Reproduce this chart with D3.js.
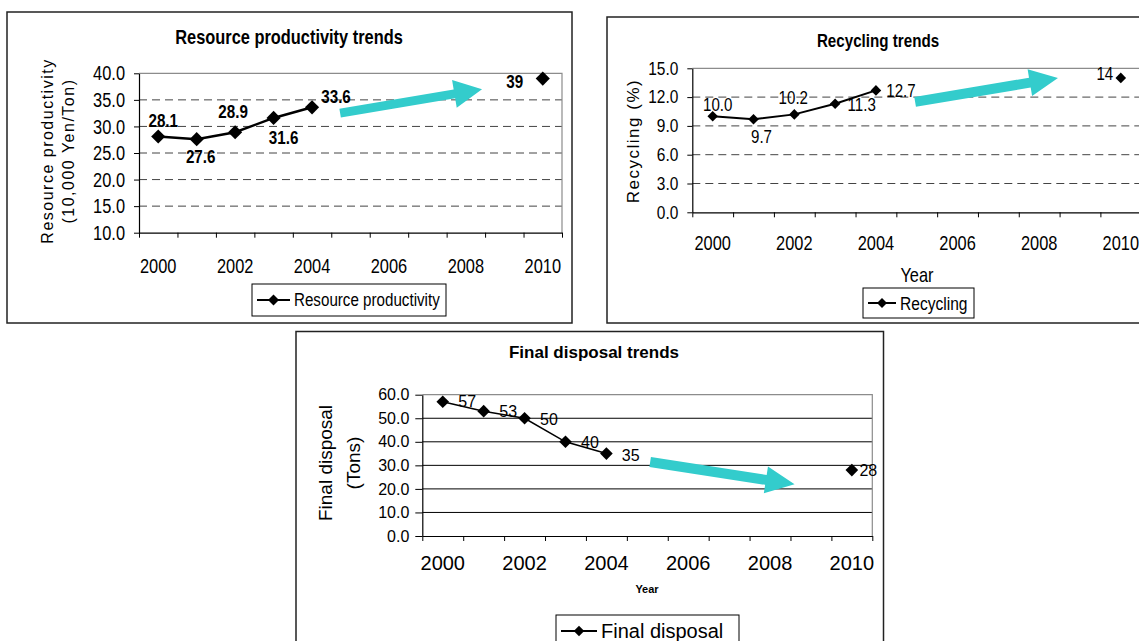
<!DOCTYPE html>
<html>
<head>
<meta charset="utf-8">
<script src="https://cdn.jsdelivr.net/npm/d3@7"></script>
<style>
  body { margin: 0; background: #fff; }
</style>
</head>
<body>
<div id="wrapper"></div>
<script>
// categories: one slot per year, the x axis only labels every other one
const years = ["2000", "2001", "2002", "2003", "2004", "2005", "2006", "2007", "2008", "2009", "2010"];
const yearTicks = ["2000", "2002", "2004", "2006", "2008", "2010"];

// series values (null = no data, so the line breaks before the 2010 target)
const resourceValues = [28.1, 27.6, 28.9, 31.6, 33.6, null, null, null, null, null, 39];
const recyclingValues = [10.0, 9.7, 10.2, 11.3, 12.7, null, null, null, null, null, 14];
const disposalValues = [57, 53, 50, 40, 35, null, null, null, null, null, 28];

// data label texts, as printed on the chart
const resourceLabels = ["28.1", "27.6", "28.9", "31.6", "33.6", "39"];
const recyclingLabels = ["10.0", "9.7", "10.2", "11.3", "12.7", "14"];
const disposalLabels = ["57", "53", "50", "40", "35", "28"];

// y tick values
const resourceTicks = [10, 15, 20, 25, 30, 35, 40];
const recyclingTicks = [0, 3, 6, 9, 12, 15];
const disposalTicks = [0, 10, 20, 30, 40, 50, 60];

// trend arrows: [category position, value] for tail and tip
const resourceTrend = [[4.73, 32.5], [8.42, 37.0]];
const recyclingTrend = [[4.96, 11.5], [8.46, 14.0]];
const disposalTrend = [[5.07, 31.4], [8.6, 21.95]];

const SANS = "'Liberation Sans', Arial, sans-serif";
const ARROW = "#33CCCC";

// no Arial Narrow here, so narrow text is plain sans squeezed sideways
function setFont(sel, f) {
  sel.attr("font-family", SANS)
    .attr("font-size", f.size)
    .attr("font-weight", f.weight || "normal")
    .attr("fill", "#000");
  if (f.squeeze && f.squeeze !== 1) {
    sel.each(function() {
      const t = d3.select(this);
      const x = +t.attr("x") || 0;
      t.attr("x", x / f.squeeze)
        .attr("transform", (t.attr("transform") || "") + ` scale(${f.squeeze},1)`);
    });
  }
}

const svg = d3.select("#wrapper").append("svg")
  .attr("width", 1139)
  .attr("height", 641)
  .style("display", "block");

function drawChart(c) {
  const g = svg.append("g");

  // outer frame of the chart object
  g.append("rect")
    .attr("x", c.frame[0]).attr("y", c.frame[1])
    .attr("width", c.frame[2]).attr("height", c.frame[3])
    .attr("fill", "#fff")
    .attr("stroke", "#222")
    .attr("stroke-width", 1.5);

  const x = d3.scaleBand()
    .domain(years)
    .range([c.plot.left, c.plot.right]);
  const xEdge = d3.scaleLinear()
    .domain([0, years.length])
    .range([c.plot.left, c.plot.right]);
  const y = d3.scaleLinear()
    .domain(d3.extent(c.ticks))
    .range([c.plot.bottom, c.plot.top]);
  const xAt = p => xEdge(p + 0.5);

  // horizontal gridlines
  g.append("g").selectAll("line")
    .data(c.ticks.slice(1, -1))
    .join("line")
    .attr("x1", c.plot.left).attr("x2", c.plot.right)
    .attr("y1", d => y(d)).attr("y2", d => y(d))
    .attr("stroke", c.gridColor)
    .attr("stroke-width", 1)
    .attr("stroke-dasharray", c.gridDash);

  // plot area border, top and right
  g.append("path")
    .attr("d", `M${c.plot.left},${y(d3.max(c.ticks))}H${c.plot.right}V${c.plot.bottom}`)
    .attr("fill", "none")
    .attr("stroke", "#8c8c8c")
    .attr("stroke-width", 1.2);

  // y axis
  const yAxis = g.append("g")
    .attr("transform", `translate(${c.plot.left},0)`)
    .call(d3.axisLeft(y).tickValues(c.ticks).tickFormat(d3.format(".1f"))
      .tickSize(c.yTickSize).tickSizeOuter(0).tickPadding(c.yPad));
  yAxis.select(".domain").attr("stroke", "#000").attr("stroke-width", 1.2);
  yAxis.selectAll(".tick line").attr("stroke", "#000");
  setFont(yAxis.selectAll("text"), c.yFont);

  // x axis: tick marks between categories, labels on every other year
  const xMarks = g.append("g")
    .attr("transform", `translate(0,${c.plot.bottom})`)
    .call(d3.axisBottom(xEdge).tickValues(d3.range(years.length + 1))
      .tickFormat("").tickSize(5).tickSizeOuter(0));
  xMarks.select(".domain").attr("stroke", "#000").attr("stroke-width", 1.2);
  xMarks.selectAll(".tick line").attr("stroke", "#000");

  const xLabels = g.append("g")
    .attr("transform", `translate(0,${c.plot.bottom})`)
    .call(d3.axisBottom(x).tickValues(yearTicks).tickSize(0));
  xLabels.select(".domain").remove();
  xLabels.selectAll("text")
    .attr("y", c.xLabelY)
    .attr("dy", "0.35em");
  setFont(xLabels.selectAll("text"), c.xFont);

  // trend arrow
  const [p0, p1] = c.trend.map(([p, v]) => [xAt(p), y(v)]);
  const len = Math.hypot(p1[0] - p0[0], p1[1] - p0[1]);
  const ux = (p1[0] - p0[0]) / len, uy = (p1[1] - p0[1]) / len;
  const nx = -uy, ny = ux;
  const bx = p1[0] - ux * c.arrow.head, by = p1[1] - uy * c.arrow.head;
  const w = c.arrow.shaft / 2, hw = c.arrow.half;
  const arrowPts = [
    [p0[0] + nx * w, p0[1] + ny * w],
    [bx + nx * w, by + ny * w],
    [bx + nx * hw, by + ny * hw],
    p1,
    [bx - nx * hw, by - ny * hw],
    [bx - nx * w, by - ny * w],
    [p0[0] - nx * w, p0[1] - ny * w]
  ];
  g.append("path")
    .attr("d", d3.line()(arrowPts) + "Z")
    .attr("fill", ARROW);

  // series line and markers
  const pts = years.map((yr, i) => ({ yr, v: c.values[i] }));
  const line = d3.line()
    .defined(d => d.v != null)
    .x(d => x(d.yr) + x.bandwidth() / 2)
    .y(d => y(d.v));
  g.append("path")
    .attr("d", line(pts))
    .attr("fill", "none")
    .attr("stroke", "#000")
    .attr("stroke-width", c.lineWidth);

  const shown = pts.filter(d => d.v != null);
  const diamond = d3.symbol(d3.symbolSquare, c.markerSize);
  g.append("g").selectAll("path")
    .data(shown)
    .join("path")
    .attr("d", diamond)
    .attr("transform", d => `translate(${x(d.yr) + x.bandwidth() / 2},${y(d.v)}) rotate(45)`)
    .attr("fill", "#000");

  // data labels
  const labels = g.append("g").selectAll("text")
    .data(shown)
    .join("text")
    .attr("x", (d, i) => x(d.yr) + x.bandwidth() / 2 + c.labelOffsets[i][0])
    .attr("y", (d, i) => y(d.v) + c.labelOffsets[i][1])
    .attr("dy", "0.35em")
    .attr("text-anchor", "middle")
    .text((d, i) => c.labels[i]);
  setFont(labels, c.labelFont);

  // title
  const title = g.append("text")
    .attr("x", c.title.x).attr("y", c.title.y)
    .attr("dy", "0.35em")
    .attr("text-anchor", "middle")
    .text(c.title.text);
  setFont(title, c.title);

  // rotated y title, one text per line
  c.yTitle.lines.forEach((t, i) => {
    g.append("text")
      .attr("transform", `translate(${c.yTitle.xs[i]},${c.yTitle.cy}) rotate(-90)`)
      .attr("dy", "0.35em")
      .attr("text-anchor", "middle")
      .attr("font-family", SANS)
      .attr("font-size", c.yTitle.size)
      .attr("letter-spacing", c.yTitle.spacing)
      .text(t);
  });

  if (c.xTitle) {
    const xt = g.append("text")
      .attr("x", c.xTitle.x).attr("y", c.xTitle.y)
      .attr("dy", "0.35em")
      .attr("text-anchor", "middle")
      .text("Year");
    setFont(xt, c.xTitle);
  }

  // legend
  const L = c.legend;
  const lg = g.append("g").attr("transform", `translate(${L.x},${L.y})`);
  lg.append("rect")
    .attr("width", L.w).attr("height", L.h)
    .attr("fill", "#fff").attr("stroke", "#000").attr("stroke-width", 1);
  lg.append("line")
    .attr("x1", 5).attr("x2", 5 + L.lineLen)
    .attr("y1", L.h / 2).attr("y2", L.h / 2)
    .attr("stroke", "#000").attr("stroke-width", 2);
  lg.append("path")
    .attr("d", d3.symbol(d3.symbolSquare, L.marker)())
    .attr("transform", `translate(${5 + L.lineLen / 2},${L.h / 2}) rotate(45)`)
    .attr("fill", "#000");
  const lt = lg.append("text")
    .attr("x", 9 + L.lineLen).attr("y", L.h / 2)
    .attr("dy", "0.35em")
    .text(L.text);
  setFont(lt, L.font);
}

drawChart({
  frame: [7, 12, 565, 311],
  plot: { left: 139, right: 562, top: 73.3, bottom: 232.7 },
  values: resourceValues,
  labels: resourceLabels,
  labelOffsets: [[5, -16], [4, 17], [-2, -21], [10, 19], [24, -11], [-28, 3]],
  ticks: resourceTicks,
  trend: resourceTrend,
  arrow: { shaft: 9, head: 28, half: 14 },
  gridColor: "#444", gridDash: "8,5",
  yTickSize: 5, yPad: 9,
  yFont: { size: 20.5, squeeze: 0.8 },
  xFont: { size: 20.5, squeeze: 0.8 },
  xLabelY: 33,
  labelFont: { size: 19, weight: "bold", squeeze: 0.8 },
  lineWidth: 2.5, markerSize: 100,
  title: { text: "Resource productivity trends", x: 289, y: 37, size: 20, weight: "bold", squeeze: 0.82 },
  yTitle: { lines: ["Resource productivity", "(10,000 Yen/Ton)"], xs: [47, 68], cy: 151, size: 16, spacing: 1.5 },
  xTitle: null,
  legend: { x: 252, y: 284, w: 194, h: 32, lineLen: 33, marker: 60, text: "Resource productivity", font: { size: 18.5, squeeze: 0.82 } }
});

drawChart({
  frame: [607, 17, 560, 306],
  plot: { left: 692.3, right: 1141.2, top: 68.3, bottom: 212.3 },
  values: recyclingValues,
  labels: recyclingLabels,
  labelOffsets: [[5, -12], [8, 17.5], [-1, -17], [26.6, 1], [25, 0.6], [-16, -4.6]],
  ticks: recyclingTicks,
  trend: recyclingTrend,
  arrow: { shaft: 10, head: 28.5, half: 13.5 },
  gridColor: "#444", gridDash: "8,5",
  yTickSize: 5, yPad: 9,
  yFont: { size: 18, squeeze: 0.86 },
  xFont: { size: 20, squeeze: 0.82 },
  xLabelY: 31,
  labelFont: { size: 18, squeeze: 0.84 },
  lineWidth: 2, markerSize: 56,
  title: { text: "Recycling trends", x: 878, y: 41, size: 18.5, weight: "bold", squeeze: 0.82 },
  yTitle: { lines: ["Recycling (%)"], xs: [633], cy: 141, size: 17, spacing: 1.5 },
  xTitle: { x: 917, y: 275, size: 20, squeeze: 0.82 },
  legend: { x: 863, y: 288, w: 111, h: 30, lineLen: 28, marker: 50, text: "Recycling", font: { size: 19, squeeze: 0.82 } }
});

drawChart({
  frame: [296, 331.5, 587.5, 320],
  plot: { left: 422.3, right: 872.3, top: 394.7, bottom: 536 },
  values: disposalValues,
  labels: disposalLabels,
  labelOffsets: [[24.5, 0], [24.6, 0], [24.4, 0.7], [24.5, 1], [24.3, 1.4], [16.5, 0]],
  ticks: disposalTicks,
  trend: disposalTrend,
  arrow: { shaft: 10, head: 29, half: 13.6 },
  gridColor: "#000", gridDash: null,
  yTickSize: 7, yPad: 6,
  yFont: { size: 16 },
  xFont: { size: 20 },
  xLabelY: 27,
  labelFont: { size: 16 },
  lineWidth: 1.5, markerSize: 80,
  title: { text: "Final disposal trends", x: 594, y: 352, size: 17, weight: "bold" },
  yTitle: { lines: ["Final disposal", "(Tons)"], xs: [325, 353], cy: 463, size: 19, spacing: 0 },
  xTitle: { x: 647, y: 589, size: 11, weight: "bold" },
  legend: { x: 556, y: 615, w: 183, h: 32, lineLen: 36, marker: 55, text: "Final disposal", font: { size: 20 } }
});
</script>
</body>
</html>
